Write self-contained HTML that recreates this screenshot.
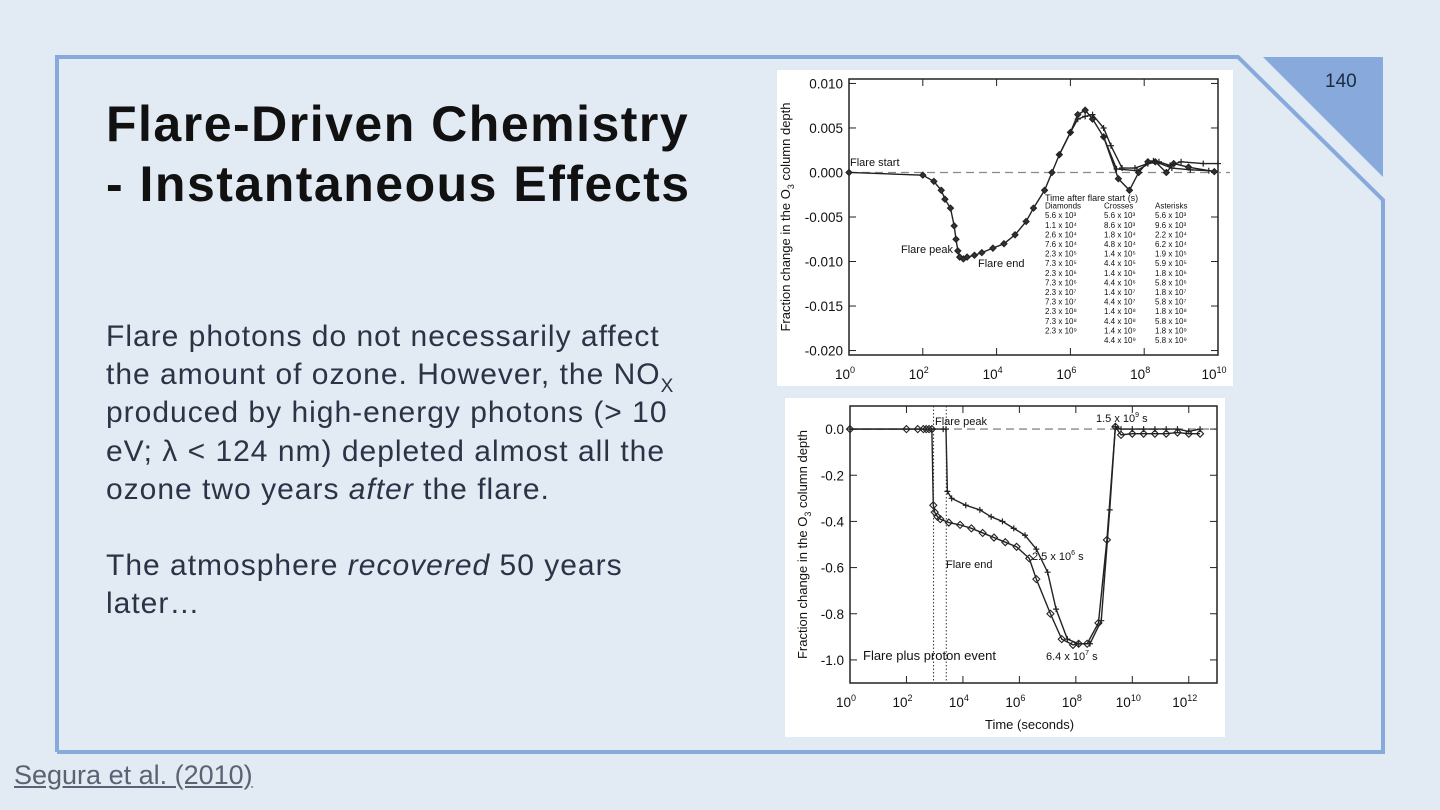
<!DOCTYPE html>
<html><head><meta charset="utf-8"><style>
body{margin:0;width:1440px;height:810px;background:#e2eaf3;overflow:hidden;font-family:"Liberation Sans",sans-serif;position:relative}
#title{position:absolute;left:106px;top:94px;font-size:50px;font-weight:bold;line-height:60px;color:#111;margin:0;letter-spacing:1.5px;white-space:nowrap}
#body{position:absolute;left:106px;top:318px;font-size:30px;line-height:38.2px;color:#2b3447;white-space:nowrap;letter-spacing:1px}
#body sub{font-size:19px;position:relative;top:8px;vertical-align:baseline;line-height:0}
#cite{position:absolute;left:14px;top:760px;font-size:27px;color:#5a6273;text-decoration:underline}
#pg{position:absolute;left:1325px;top:71px;font-size:19px;color:#1e2a40}
svg{position:absolute;left:0;top:0}
</style></head><body>
<svg width="1440" height="810">
<polyline points="57,752 57,57 1238,57 1383,200 1383,752 57,752" fill="none" stroke="#87a9dc" stroke-width="4"/>
<polygon points="1263,57 1383,57 1383,177" fill="#87a9dc"/>
</svg>
<div id="pg">140</div>
<h1 id="title">Flare-Driven Chemistry<br>- Instantaneous Effects</h1>
<div id="body">Flare photons do not necessarily affect<br>the amount of ozone. However, the NO<sub>X</sub><br>produced by high-energy photons (&gt; 10<br>eV; λ &lt; 124 nm) depleted almost all the<br>ozone two years <i>after</i> the flare.<br><br>The atmosphere <i>recovered</i> 50 years<br>later…</div>
<div id="cite">Segura et al. (2010)</div>

<svg id="c1" width="1440" height="810" font-family="Liberation Sans, sans-serif"></svg>
<svg id="c2" width="1440" height="810" font-family="Liberation Sans, sans-serif"></svg>
<script>
// Top chart data (x = log10 seconds)
const topDiamX=[0,2,2.3,2.5,2.6,2.75,2.85,2.9,2.95,3.0,3.1,3.2,3.4,3.6,3.9,4.2,4.5,4.8,5.0,5.3,5.5,5.7,6.0,6.2,6.4,6.6,6.9,7.3,7.6,7.85,8.1,8.3,8.6,8.8,9.2,9.9];
const topDiamY=[0,-0.0003,-0.001,-0.002,-0.003,-0.004,-0.006,-0.0075,-0.0088,-0.0095,-0.0097,-0.0095,-0.0093,-0.009,-0.0085,-0.008,-0.007,-0.0055,-0.004,-0.002,0,0.002,0.0045,0.0065,0.007,0.006,0.004,-0.0007,-0.002,0,0.0012,0.0012,0,0.001,0.0006,0.0001];
const topCrossX=[5.7,6.0,6.2,6.4,6.6,6.9,7.1,7.4,7.75,8.1,8.4,8.7,9.0,9.6,10];
const topCrossY=[0.002,0.0045,0.006,0.0063,0.0065,0.005,0.003,0.0005,0.0005,0.001,0.0012,0.0008,0.0012,0.001,0.001];
const topAstX=[6.9,7.25,7.8,8.25,8.75,9.25,9.75];
const topAstY=[0.004,0.0004,0.0002,0.0013,0.0005,0.0003,0.0002];
const topYTicks=[0.010,0.005,0.000,-0.005,-0.010,-0.015,-0.020];
const topYLabels=["0.010","0.005","0.000","-0.005","-0.010","-0.015","-0.020"];
const topXTicks=[0,2,4,6,8,10];
// Bottom chart data
const botDiamX=[0,2,2.4,2.6,2.7,2.8,2.9,2.95,3.0,3.1,3.2,3.5,3.9,4.3,4.7,5.1,5.5,5.9,6.35,6.6,7.1,7.5,7.9,8.1,8.4,8.8,9.1,9.4,9.6,10.0,10.4,10.8,11.2,11.6,12.0,12.4];
const botDiamY=[0,0,0,0,0,0,0,-0.33,-0.36,-0.38,-0.39,-0.405,-0.415,-0.43,-0.45,-0.47,-0.49,-0.51,-0.56,-0.65,-0.8,-0.91,-0.935,-0.93,-0.93,-0.84,-0.48,0.01,-0.025,-0.02,-0.02,-0.02,-0.02,-0.015,-0.02,-0.02];
const botCrossX=[0,3.3,3.4,3.45,3.6,4.1,4.6,5.0,5.4,5.8,6.2,6.6,7.0,7.3,7.7,8.1,8.5,8.9,9.2,9.4,9.6,10,10.4,10.8,11.2,11.6,12.0,12.4];
const botCrossY=[0,0,0,-0.27,-0.30,-0.33,-0.35,-0.38,-0.40,-0.43,-0.46,-0.52,-0.62,-0.78,-0.91,-0.93,-0.93,-0.83,-0.35,0.01,0,0,0,0,0,0,-0.01,0];
const botYTicks=[0,-0.2,-0.4,-0.6,-0.8,-1.0];
const botYLabels=["0.0","-0.2","-0.4","-0.6","-0.8","-1.0"];
const botXTicks=[0,2,4,6,8,10,12];
const NS="http://www.w3.org/2000/svg";
function mk(p,t,a){const e=document.createElementNS(NS,t);for(const k in a)e.setAttribute(k,a[k]);p.appendChild(e);return e;}
function chart(svg,o){
  const sx=v=>o.x0+(v-o.xmin)/(o.xmax-o.xmin)*(o.x1-o.x0);
  const sy=v=>o.y0+(o.ymax-v)/(o.ymax-o.ymin)*(o.y1-o.y0);
  const bg=mk(svg,'rect',{x:o.bx,y:o.by,width:o.bw,height:o.bh,fill:'#fff'});
  
  
  mk(svg,'rect',{x:o.x0,y:o.y0,width:o.x1-o.x0,height:o.y1-o.y0,fill:'none',stroke:'#222','stroke-width':1.5});
  mk(svg,'line',{x1:o.x0,x2:o.x1+(o.dashExt||0),y1:sy(0),y2:sy(0),stroke:'#888','stroke-dasharray':'8,5','stroke-width':1.3});
  o.yt.forEach((v,i)=>{
    mk(svg,'line',{x1:o.x0,x2:o.x0+7,y1:sy(v),y2:sy(v),stroke:'#222'});
    mk(svg,'line',{x1:o.x1,x2:o.x1-7,y1:sy(v),y2:sy(v),stroke:'#222'});
    const t=mk(svg,'text',{x:o.x0-6,y:sy(v)+5,'text-anchor':'end','font-size':13.5,fill:'#111'});t.textContent=o.yl[i];
    
    
  });
  o.xt.forEach(v=>{
    mk(svg,'line',{x1:sx(v),x2:sx(v),y1:o.y1,y2:o.y1-7,stroke:'#222'});
    mk(svg,'line',{x1:sx(v),x2:sx(v),y1:o.y0,y2:o.y0+7,stroke:'#222'});
    const t=mk(svg,'text',{x:sx(v)-4,y:o.y1+24,'text-anchor':'middle','font-size':13.5,fill:'#111'});
    t.innerHTML='10<tspan dy="-6" font-size="9">'+v+'</tspan>';
    
    
  });
  o.series.forEach(s=>{
    const pl=mk(svg,'polyline',{points:s.x.map((v,i)=>sx(v)+','+sy(s.y[i])).join(' '),fill:'none',stroke:'#222','stroke-width':1.4});
    
    
    const r=s.r||4;
    s.x.forEach((v,i)=>{
      const X=sx(v),Y=sy(s.y[i]);
      if(s.m==='d')mk(svg,'polygon',{points:`${X},${Y-r} ${X+r},${Y} ${X},${Y+r} ${X-r},${Y}`,fill:s.fill||'none',stroke:'#222','stroke-width':1.1});
      else mk(svg,'path',{d:`M${X-3},${Y}h6M${X},${Y-3}v6`,stroke:'#222','stroke-width':1.2});
    });
  });
  const yl=mk(svg,'text',{transform:`translate(${o.ylx},${(o.y0+o.y1)/2}) rotate(-90)`,'text-anchor':'middle','font-size':13,fill:'#111'});
  yl.innerHTML='Fraction change in the O<tspan dy="4" font-size="9">3</tspan><tspan dy="-4"> column depth</tspan>';
  
  
  return {sx,sy};
}
function lbl(svg,x,y,s,fs,name){const t=mk(svg,'text',{x,y,'font-size':fs||11,fill:'#111'});t.innerHTML=s;return t;}
const s1=document.getElementById('c1');
chart(s1,{bx:777,by:70,bw:456,bh:316,x0:849,x1:1218,y0:79,y1:355,xmin:0,xmax:10,ymin:-0.0205,ymax:0.0105,yt:topYTicks,yl:topYLabels,xt:topXTicks,ylx:790,dashExt:12,
 series:[{name:'series-diamonds',x:topDiamX,y:topDiamY,m:'d',fill:'#333',r:3},{name:'series-crosses',x:topCrossX,y:topCrossY,m:'c'},{name:'series-asterisks',x:topAstX,y:topAstY,m:'c'}]});
lbl(s1,850,166,'Flare start',11,'flare-start-label');
lbl(s1,901,253,'Flare peak',11,'flare-peak-label');
lbl(s1,978,267,'Flare end',11,'flare-end-label');
const tbl=[["Time after flare start (s)"],["Diamonds","Crosses","Asterisks"],["5.6 x 10³","5.6 x 10³","5.6 x 10³"],["1.1 x 10⁴","8.6 x 10³","9.6 x 10³"],["2.6 x 10⁴","1.8 x 10⁴","2.2 x 10⁴"],["7.6 x 10⁴","4.8 x 10⁴","6.2 x 10⁴"],["2.3 x 10⁵","1.4 x 10⁵","1.9 x 10⁵"],["7.3 x 10⁵","4.4 x 10⁵","5.9 x 10⁵"],["2.3 x 10⁶","1.4 x 10⁶","1.8 x 10⁶"],["7.3 x 10⁶","4.4 x 10⁶","5.8 x 10⁶"],["2.3 x 10⁷","1.4 x 10⁷","1.8 x 10⁷"],["7.3 x 10⁷","4.4 x 10⁷","5.8 x 10⁷"],["2.3 x 10⁸","1.4 x 10⁸","1.8 x 10⁸"],["7.3 x 10⁸","4.4 x 10⁸","5.8 x 10⁸"],["2.3 x 10⁹","1.4 x 10⁹","1.8 x 10⁹"],["","4.4 x 10⁹","5.8 x 10⁹"]];
tbl.forEach((r,i)=>{r.forEach((c,j)=>{lbl(s1,[1045,1104,1155][j],201+i*9.6-(i>0?2:0),c,i==0?9:8,'legend-table-cell');});});
const s2=document.getElementById('c2');
const b=chart(s2,{bx:785,by:398,bw:440,bh:339,x0:850,x1:1217,y0:406,y1:683,xmin:0,xmax:13,ymin:-1.1,ymax:0.1,yt:botYTicks,yl:botYLabels,xt:botXTicks,ylx:807,
 series:[{name:'series-flare-only',x:botDiamX,y:botDiamY,m:'d',r:3.5},{name:'series-proton',x:botCrossX,y:botCrossY,m:'c'}]});
[2.96,3.41].forEach(v=>{const l=mk(s2,'line',{x1:b.sx(v),x2:b.sx(v),y1:406,y2:683,stroke:'#333','stroke-dasharray':'1.5,2'});});
lbl(s2,935,425,'Flare peak',11,'flare-peak-label');
lbl(s2,946,568,'Flare end',11,'flare-end-label');
lbl(s2,1032,560,'2.5 x 10<tspan dy="-5" font-size="7">6</tspan><tspan dy="5"> s</tspan>',11,'annotation-2.5e6');
lbl(s2,1046,660,'6.4 x 10<tspan dy="-5" font-size="7">7</tspan><tspan dy="5"> s</tspan>',11,'annotation-6.4e7');
lbl(s2,1096,422,'1.5 x 10<tspan dy="-5" font-size="7">9</tspan><tspan dy="5"> s</tspan>',11,'annotation-1.5e9');
lbl(s2,863,660,'Flare plus proton event',13,'panel-label');
lbl(s2,985,729,'Time (seconds)',13,'x-axis-title');
</script>
</body></html>
